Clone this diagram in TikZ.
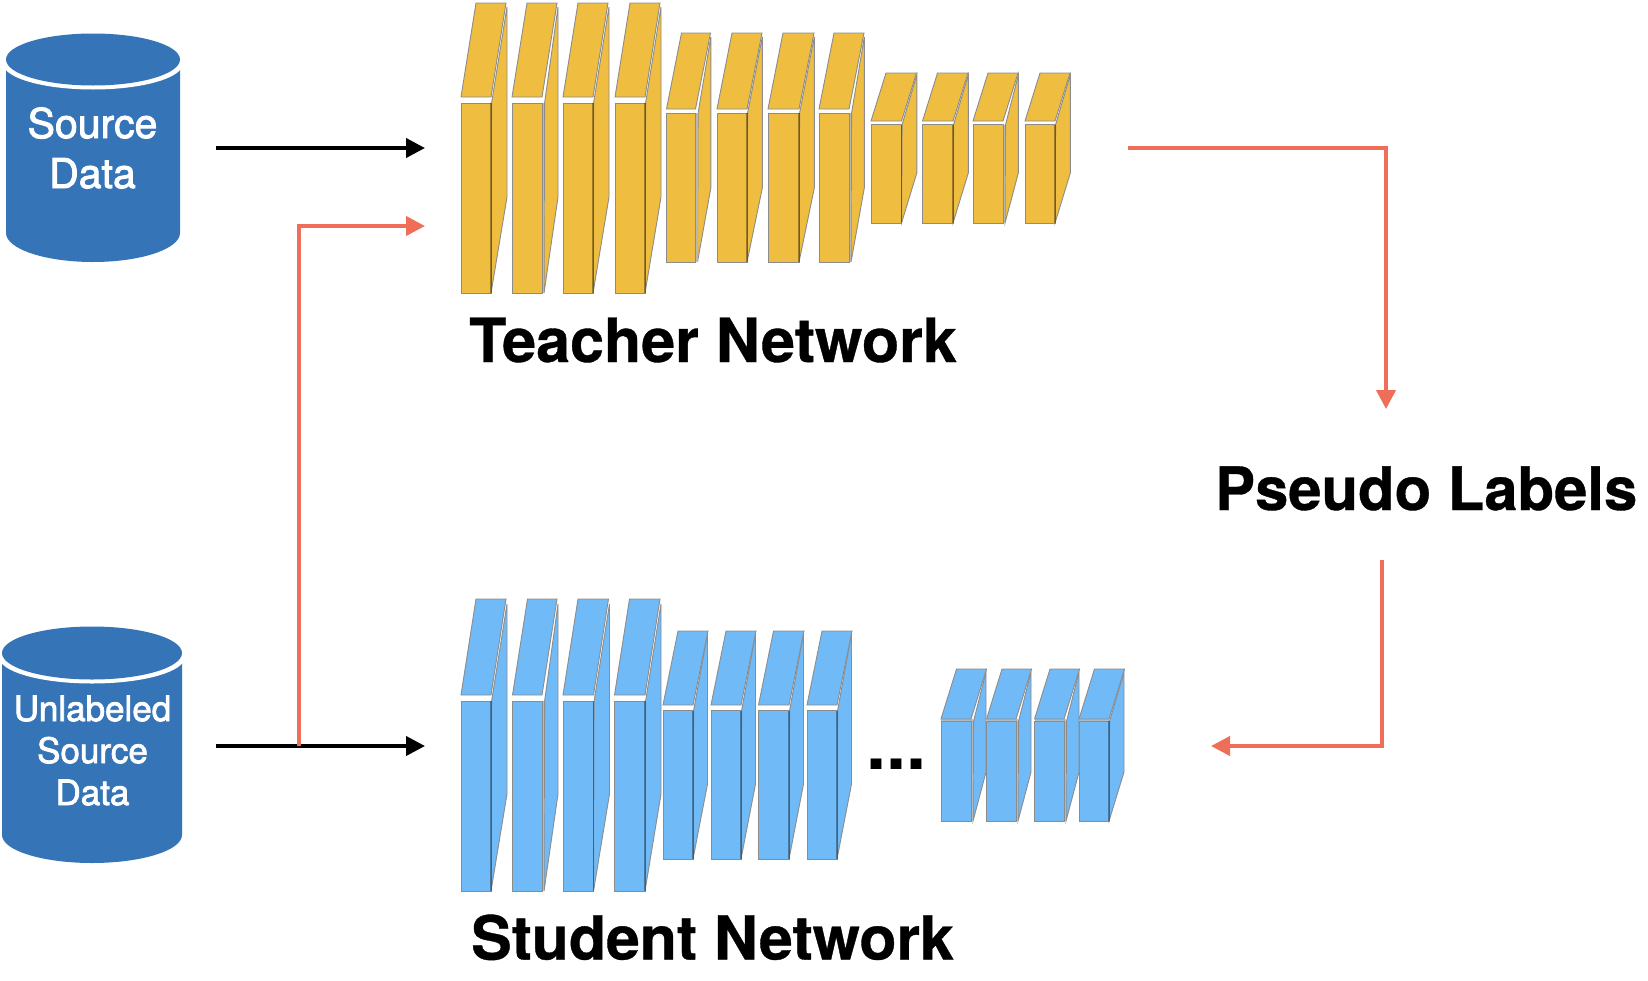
\documentclass[tikz,border=0pt]{standalone}
\usepackage{fontspec}
\setmainfont{TeX Gyre Heros}
\newfontfamily\medfont[FakeBold=2.2]{TeX Gyre Heros}
\newfontfamily\titlefont[BoldFeatures={FakeBold=0.6}]{TeX Gyre Heros}
\usetikzlibrary{arrows.meta}
\definecolor{yel}{HTML}{EFBD40}
\definecolor{blu}{HTML}{70BAF8}
\definecolor{cyl}{HTML}{3574B6}
\definecolor{redl}{HTML}{EE6E57}
\definecolor{edgec}{HTML}{8C8C8C}
\tikzset{
  face/.style={draw=edgec,line width=0.9pt,line join=miter},
  blackarrow/.style={draw=black,line width=4pt,-{Triangle[length=19pt,width=19pt]}},
  redarrow/.style={draw=redl,line width=4pt,line join=miter,-{Triangle[length=19pt,width=19pt]}},
  dbtext/.style={text=white,align=center,anchor=base,inner sep=0pt},
  title/.style={font=\titlefont\bfseries\fontsize{61}{61}\selectfont,anchor=base west,inner sep=0pt,text=black},
}
% #1 left x, #2 right x of front face, #3 strip width
\newcommand\blk[3]{%
  \draw[face,fill=\bcol] ({#2+#3+0.6},\yft) -- ({#2+\sx},\stp) -- ({#2+\sx},\slow) -- ({#2+#3},\ybot) -- cycle;
  \fill[\gapc] (#1,\ytb) rectangle ({#2+#3},\yft);
  \ifdim #3pt>0pt \fill[black!28] (#2,\yft) rectangle ({#2+#3},\ybot);\fi
  \draw[face,fill=\bcol] (#1,\ytb) -- (#2,\ytb) -- ({#2+\dxx},\ytop) -- ({#1+\dxx},\ytop) -- cycle;
  \draw[face,fill=\bcol] (#1,\yft) rectangle (#2,\ybot);
  \ifdim #3pt=0pt \draw[black,opacity=.35,line width=1.3pt] (#2,\yft) -- (#2,\ybot);\fi
}
\newcommand\setrow[8]{\def\ytop{#1}\def\ytb{#2}\def\yft{#3}\def\ybot{#4}\def\dxx{#5}\def\sx{#6}\def\stp{#7}\def\slow{#8}}
% center x, half width, side low y, bottom y, ellipse centre y, ellipse ry
\newcommand\dbcyl[6]{%
  \fill[cyl] ({#1-#2},#5) -- ({#1-#2},#3) .. controls ({#1-#2},{#3+(#4-#3)*0.55}) and ({#1-0.55*#2},#4) .. (#1,#4)
     .. controls ({#1+0.55*#2},#4) and ({#1+#2},{#3+(#4-#3)*0.55}) .. ({#1+#2},#3) -- ({#1+#2},#5) -- cycle;
  \fill[white] (#1,{#5+4}) ellipse [x radius={#2+3},y radius=#6];
  \fill[cyl] (#1,#5) ellipse [x radius=#2,y radius=#6];
}
\begin{document}
\begin{tikzpicture}[x=1pt,y=-1pt]
\useasboundingbox (0,0) rectangle (1648,980);
\fill[white] (0,0) rectangle (1648,980);

% databases
\dbcyl{93}{87}{233}{262}{59.5}{26}
\dbcyl{92}{90}{835}{863}{653}{26.5}
\node[dbtext,font=\medfont\fontsize{41}{41}\selectfont] (srctxt) at (92.5,138) {Source};
\node[dbtext,font=\medfont\fontsize{41}{41}\selectfont] (srctxtb) at (92.5,188) {Data};
\node[dbtext,font=\medfont\fontsize{35}{35}\selectfont] (unltxt) at (92.5,721) {Unlabeled};
\node[dbtext,font=\medfont\fontsize{35}{35}\selectfont] (unltxtb) at (92.5,763) {Source};
\node[dbtext,font=\medfont\fontsize{35}{35}\selectfont] (unltxtc) at (92.5,805) {Data};

% teacher network
\def\bcol{yel}
\def\gapc{white}
\setrow{3}{97}{103}{293}{15}{16}{7}{197}
\blk{461}{491}{0}\blk{512}{542}{2}\blk{563}{593}{0}\blk{615}{645}{0}
\setrow{33}{109}{113}{262}{15}{15.3}{37}{188}
\blk{666.5}{695.5}{2}\blk{717}{747}{0}\blk{768}{799}{0}\blk{819}{849}{2}
\setrow{73}{121}{124.5}{223}{15}{15.3}{75}{173}
\blk{871}{901.5}{0}\blk{922.5}{953}{0}\blk{973}{1003}{2}\blk{1025}{1055}{0}

% student network
\def\bcol{blu}
\setrow{599}{695}{701}{891}{15}{16}{604}{794}
\blk{461}{491}{0}\blk{512.5}{542}{2}\blk{563}{593.5}{0}\blk{614.5}{645}{0}
\setrow{631}{705}{710.5}{859}{15}{14.5}{634}{784}
\blk{663}{693}{0}\blk{711}{741}{0}\blk{758.5}{789}{0}\blk{807}{837}{0}
\def\gapc{black!28}
\setrow{669}{719}{721}{821}{15.5}{15}{672}{772}
\blk{941}{971}{2}\blk{986.5}{1016}{2}\blk{1034.5}{1064}{2}\blk{1079}{1109}{0}

% labels
\node[title] (teacher) at (469,362) {Teacher Network};
\node[title,font=\titlefont\bfseries\fontsize{60.7}{61}\selectfont] (student) at (471,959.5) {Student Network};
\node[title,font=\titlefont\bfseries\fontsize{59.8}{60}\selectfont] (pseudo) at (1215,510) {Pseudo Labels};
\node[font=\bfseries\fontsize{72}{72}\selectfont,anchor=base west,inner sep=0pt] (dots) at (866,769) {...};

% connector ends
\coordinate (a1) at (216,148);
\coordinate (a2) at (425,148);
\coordinate (b1) at (216,746);
\coordinate (b2) at (425,746);
\coordinate (c0) at (299,746);
\coordinate (c1) at (299,226);
\coordinate (c2) at (425,226);
\coordinate (d1) at (1128,148);
\coordinate (d2) at (1386,148);
\coordinate (d3) at (1386,409);
\coordinate (e1) at (1382,560);
\coordinate (e2) at (1382,746);
\coordinate (e3) at (1211,746);

\draw[blackarrow] (a1) -- (a2);
\draw[blackarrow] (b1) -- (b2);
\draw[redarrow] (c0) -- (c1) -- (c2);
\draw[redarrow] (d1) -- (d2) -- (d3);
\draw[redarrow] (e1) -- (e2) -- (e3);
\end{tikzpicture}
\end{document}
